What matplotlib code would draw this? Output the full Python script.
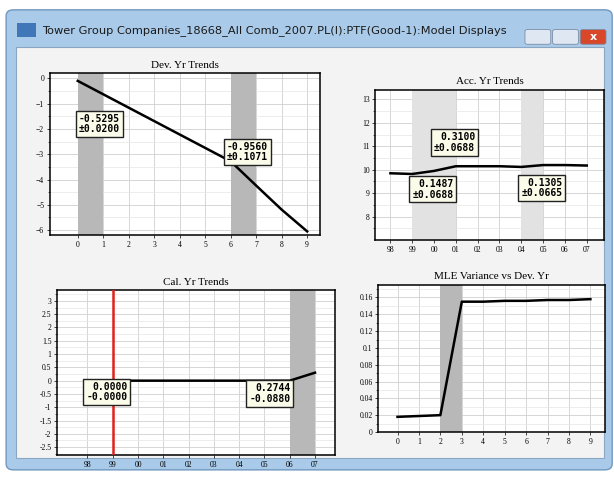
import numpy as np
import matplotlib
matplotlib.use("Agg")
import matplotlib.pyplot as plt
from matplotlib.patches import FancyBboxPatch, Rectangle

# ---- data ----
window_title = "Tower Group Companies_18668_All Comb_2007.PL(I):PTF(Good-1):Model Displays"

dev_years = [0, 1, 2, 3, 4, 5, 6, 7, 8, 9]
dev_trend = [-0.10, -0.63, -1.16, -1.69, -2.22, -2.75, -3.28, -4.24, -5.19, -6.05]
dev_shade = [(0, 1), (6, 7)]
dev_notes = [("-0.5295\n±0.0200", 0.05, -1.4), ("-0.9560\n±0.1071", 5.85, -2.5)]

acc_labels = ["98", "99", "00", "01", "02", "03", "04", "05", "06", "07"]
acc_trend = [9.85, 9.82, 9.95, 10.15, 10.15, 10.15, 10.12, 10.2, 10.2, 10.18]
acc_shade = [(1, 3), (6, 7)]
acc_notes = [("0.3100\n±0.0688", 2.0, 11.6), ("0.1487\n±0.0688", 1.0, 9.6),
             ("0.1305\n±0.0665", 6.0, 9.65)]

cal_labels = ["98", "99", "00", "01", "02", "03", "04", "05", "06", "07"]
cal_trend = [0.0, 0.0, 0.0, 0.0, 0.0, 0.0, 0.0, 0.0, 0.0, 0.3]
cal_shade = [(8, 9)]
cal_notes = [("0.0000\n-0.0000", -0.05, -0.05), ("0.2744\n-0.0880", 6.4, -0.1)]
cal_marker = 1

mle_years = [0, 1, 2, 3, 4, 5, 6, 7, 8, 9]
mle_var = [0.018, 0.019, 0.020, 0.155, 0.155, 0.156, 0.156, 0.157, 0.157, 0.158]
mle_shade = [(2, 3)]

SERIF = "Liberation Serif"

fig = plt.figure(figsize=(6.14, 4.92), dpi=100)
fig.patch.set_facecolor("white")

# window chrome (kept behind the axes)
fig.patches.append(FancyBboxPatch((0.01, 0.045), 0.987, 0.935, boxstyle="round,pad=0,rounding_size=0.012",
                                  transform=fig.transFigure, facecolor="#a9cbe9", edgecolor="#6f97bf",
                                  lw=1.0, zorder=-3))
fig.patches.append(Rectangle((0.026, 0.07), 0.957, 0.835, transform=fig.transFigure,
                             facecolor="#f3f3f3", edgecolor="#8aa6c2", lw=0.8, zorder=-2))
fig.text(0.068, 0.938, window_title, fontsize=8.2, family="DejaVu Sans", color="#1a1a1a", va="center")
fig.patches.append(Rectangle((0.028, 0.924), 0.03, 0.03, transform=fig.transFigure,
                             facecolor="#3f77b8", edgecolor="none", zorder=-1))
for x0, col in [(0.855, "#dfe8f2"), (0.9, "#dfe8f2"), (0.945, "#d9472b")]:
    fig.patches.append(FancyBboxPatch((x0, 0.91), 0.042, 0.03, boxstyle="round,pad=0,rounding_size=0.004",
                                      transform=fig.transFigure, facecolor=col, edgecolor="#7a8ea5",
                                      lw=0.6, zorder=-1))
fig.text(0.966, 0.925, "x", fontsize=8, color="white", weight="bold", ha="center", va="center")


def style_axes(ax, title, minor_y=None):
    ax.set_facecolor("white")
    ax.set_title(title, fontsize=8, family=SERIF, pad=4)
    ax.grid(True, which="major", color="#d0d0d0", lw=0.6)
    if minor_y is not None:
        ax.set_yticks(minor_y, minor=True)
        ax.grid(True, which="minor", axis="y", color="#e6e6e6", lw=0.5)
        ax.tick_params(which="minor", length=1.2, width=0.4)
    ax.tick_params(labelsize=5.5, length=2, width=0.5, pad=2)
    for lab in ax.get_xticklabels() + ax.get_yticklabels():
        lab.set_family(SERIF)
    for sp in ax.spines.values():
        sp.set_linewidth(1.1)
    ax.set_axisbelow(True)


def note(ax, text, x, y):
    ax.text(x, y, text, fontsize=7, family="DejaVu Sans Mono", weight="bold", ha="left", va="top",
            linespacing=1.05, zorder=5, multialignment="right",
            bbox=dict(boxstyle="square,pad=0.3", facecolor="#fbfbea", edgecolor="#222222", lw=1.0))


# Dev. Yr Trends
ax1 = fig.add_axes([0.081, 0.522, 0.44, 0.329])
for a, b in dev_shade:
    ax1.axvspan(a, b, color="#b8b8b8", zorder=1, lw=0)
ax1.plot(dev_years, dev_trend, color="black", lw=1.8, zorder=3)
ax1.set_xlim(-1.1, 9.5)
ax1.set_ylim(-6.2, 0.2)
ax1.set_xticks(dev_years)
ax1.set_yticks([0, -1, -2, -3, -4, -5, -6])
style_axes(ax1, "Dev. Yr Trends", minor_y=np.arange(-6, 0.01, 0.5))
for t, x, y in dev_notes:
    note(ax1, t, x, y)

# Acc. Yr Trends
ax2 = fig.add_axes([0.611, 0.512, 0.373, 0.305])
xa = np.arange(len(acc_labels))
for a, b in acc_shade:
    ax2.axvspan(a, b, color="#e2e2e2", zorder=1, lw=0)
ax2.plot(xa, acc_trend, color="black", lw=1.8, zorder=3)
ax2.set_xlim(-0.7, 9.8)
ax2.set_ylim(7.0, 13.4)
ax2.set_xticks(xa)
ax2.set_xticklabels(acc_labels)
ax2.set_yticks([8, 9, 10, 11, 12, 13])
style_axes(ax2, "Acc. Yr Trends", minor_y=np.arange(7.5, 13.01, 0.5))
for t, x, y in acc_notes:
    note(ax2, t, x, y)

# Cal. Yr Trends
ax3 = fig.add_axes([0.093, 0.075, 0.453, 0.335])
xc = np.arange(len(cal_labels))
for a, b in cal_shade:
    ax3.axvspan(a, b, color="#b8b8b8", zorder=1, lw=0)
ax3.axvline(cal_marker, color="#e0201b", lw=1.8, zorder=4)
ax3.plot(xc, cal_trend, color="black", lw=1.8, zorder=3)
ax3.set_xlim(-1.2, 9.8)
ax3.set_ylim(-2.8, 3.4)
ax3.set_xticks(xc)
ax3.set_xticklabels(cal_labels)
ax3.set_yticks(np.arange(-2.5, 3.01, 0.5))
ax3.set_yticklabels(["-2.5", "-2", "-1.5", "-1", "-0.5", "0", "0.5", "1", "1.5", "2", "2.5", "3"])
style_axes(ax3, "Cal. Yr Trends", minor_y=np.arange(-2.75, 3.3, 0.5))
for t, x, y in cal_notes:
    note(ax3, t, x, y)

# MLE Variance vs Dev. Yr
ax4 = fig.add_axes([0.616, 0.122, 0.37, 0.299])
for a, b in mle_shade:
    ax4.axvspan(a, b, color="#b8b8b8", zorder=1, lw=0)
ax4.plot(mle_years, mle_var, color="black", lw=1.8, zorder=3)
ax4.set_xlim(-0.9, 9.7)
ax4.set_ylim(0, 0.175)
ax4.set_xticks(mle_years)
ax4.set_yticks([0, 0.02, 0.04, 0.06, 0.08, 0.1, 0.12, 0.14, 0.16])
ax4.set_yticklabels(["0", "0.02", "0.04", "0.06", "0.08", "0.1", "0.12", "0.14", "0.16"])
style_axes(ax4, "MLE Variance vs Dev. Yr", minor_y=np.arange(0.01, 0.171, 0.02))

fig.savefig("out.png", dpi=100)
